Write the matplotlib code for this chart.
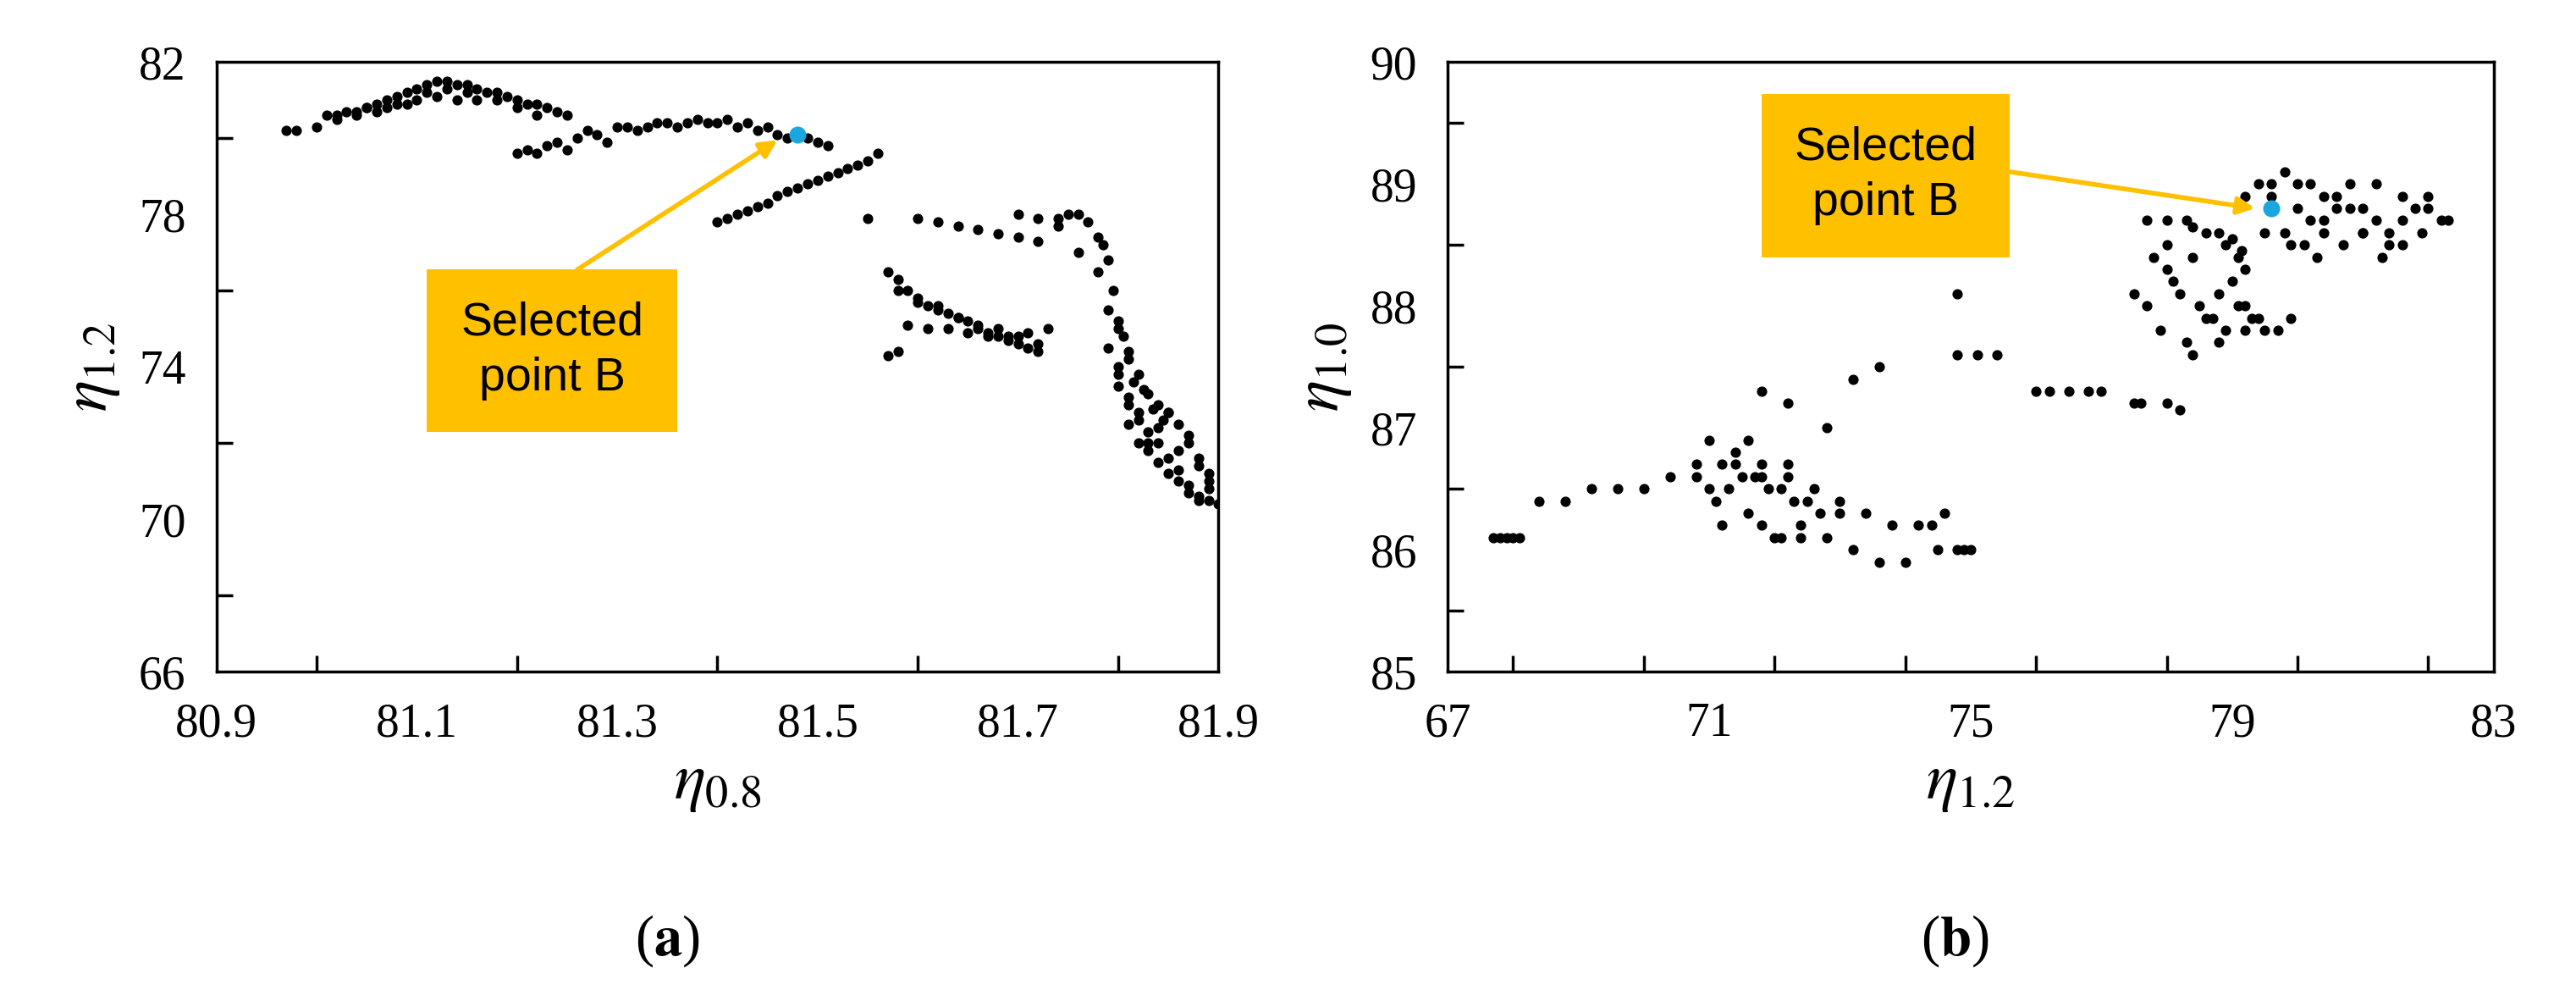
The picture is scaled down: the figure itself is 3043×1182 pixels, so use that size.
import matplotlib
matplotlib.use('Agg')
from matplotlib import pyplot as plt
from matplotlib.ticker import MultipleLocator
from matplotlib.patches import Rectangle

plt.rcParams['mathtext.fontset'] = 'stix'
plt.rcParams['font.family'] = 'Liberation Serif'

# panel (a): eta_0.8 vs eta_1.2
a_x = [80.97, 80.98, 81.00, 81.01, 81.02, 81.03, 81.04, 81.05, 81.06, 81.07, 81.08, 81.09,
       81.10, 81.11, 81.12, 81.13, 81.14, 81.15, 81.16, 81.17, 81.18, 81.19, 81.20, 81.21,
       81.22, 81.23, 81.24, 81.25, 81.02, 81.04, 81.06, 81.08, 81.10, 81.12, 81.14, 81.16,
       81.05, 81.07, 81.09, 81.11, 81.13, 81.15, 81.18, 81.20, 81.22,
       81.20, 81.21, 81.22, 81.23, 81.24, 81.25, 81.26, 81.27, 81.28, 81.29, 81.30,
       81.31, 81.32, 81.33, 81.34, 81.35, 81.36, 81.37, 81.38, 81.39, 81.40, 81.41, 81.42,
       81.43, 81.44, 81.45, 81.46, 81.47, 81.49, 81.50, 81.51,
       81.40, 81.41, 81.42, 81.43, 81.44, 81.45, 81.46, 81.47, 81.48, 81.49, 81.50, 81.51,
       81.52, 81.53, 81.54, 81.55, 81.56, 81.55,
       81.57, 81.58, 81.59, 81.60, 81.61, 81.62, 81.63, 81.64, 81.65, 81.66, 81.67, 81.68,
       81.69, 81.70, 81.71, 81.72, 81.58, 81.60, 81.62, 81.64, 81.66, 81.68, 81.70, 81.72,
       81.57, 81.58, 81.59, 81.61, 81.63, 81.65, 81.67, 81.69, 81.71, 81.73,
       81.60, 81.62, 81.64, 81.66, 81.68, 81.70, 81.72, 81.74, 81.75, 81.76, 81.77, 81.78,
       81.70, 81.72, 81.74, 81.76, 81.78, 81.79, 81.79, 81.80, 81.80, 81.81, 81.81, 81.82,
       81.82, 81.83, 81.83, 81.84, 81.84, 81.85, 81.85, 81.86, 81.86, 81.87, 81.87, 81.88,
       81.88, 81.89, 81.89, 81.90, 81.80, 81.81, 81.82, 81.83, 81.84, 81.85, 81.86, 81.87,
       81.88, 81.89, 81.81, 81.83, 81.85, 81.87, 81.89, 81.80, 81.82, 81.84, 81.86, 81.88,
       81.785, 81.79, 81.795, 81.80, 81.805, 81.81, 81.815, 81.825, 81.835, 81.845]
a_y = [80.2, 80.2, 80.3, 80.6, 80.6, 80.7, 80.7, 80.8, 80.9, 81.0, 81.1, 81.2,
       81.3, 81.4, 81.5, 81.5, 81.4, 81.4, 81.3, 81.2, 81.2, 81.1, 81.0, 80.9,
       80.9, 80.8, 80.7, 80.6, 80.5, 80.6, 80.7, 80.9, 81.0, 81.1, 81.0, 81.0,
       80.8, 80.8, 80.9, 81.2, 81.3, 81.2, 81.0, 80.8, 80.6,
       79.6, 79.7, 79.6, 79.8, 79.9, 79.7, 80.0, 80.2, 80.1, 79.9, 80.3,
       80.3, 80.2, 80.3, 80.4, 80.4, 80.3, 80.4, 80.5, 80.4, 80.4, 80.5, 80.3,
       80.4, 80.2, 80.3, 80.1, 80.0, 80.0, 79.9, 79.8,
       77.8, 77.9, 78.0, 78.1, 78.2, 78.3, 78.5, 78.6, 78.7, 78.8, 78.9, 79.0,
       79.1, 79.2, 79.3, 79.4, 79.6, 77.9,
       76.5, 76.3, 76.0, 75.8, 75.6, 75.5, 75.4, 75.3, 75.2, 75.0, 74.9, 74.8,
       74.7, 74.6, 74.5, 74.4, 76.0, 75.7, 75.6, 75.3, 75.1, 75.0, 74.8, 74.6,
       74.3, 74.4, 75.1, 75.0, 75.0, 74.9, 74.8, 74.8, 74.9, 75.0,
       77.9, 77.8, 77.7, 77.6, 77.5, 77.4, 77.3, 77.9, 78.0, 78.0, 77.8, 77.4,
       78.0, 77.9, 77.7, 77.0, 76.5, 75.5, 74.5, 74.0, 73.5, 73.2, 72.5, 72.8,
       72.0, 72.3, 71.8, 72.0, 71.5, 71.6, 71.2, 71.3, 71.0, 70.9, 70.7, 70.6,
       70.5, 70.5, 70.8, 70.4, 75.0, 74.2, 73.8, 73.3, 73.0, 72.8, 72.5, 72.0,
       71.6, 71.2, 73.0, 72.0, 72.8, 72.2, 71.0, 73.8, 72.6, 72.4, 71.8, 71.4,
       77.2, 76.8, 76.0, 75.2, 74.8, 74.4, 73.6, 73.4, 72.9, 72.6]
b_point_a = (81.48, 80.1)

# panel (b): eta_1.2 vs eta_1.0
b_x = [67.7, 67.8, 67.9, 68.0, 68.1, 68.4, 68.8, 69.2, 69.6, 70.0, 70.4, 70.8, 71.0, 71.2,
       71.4, 71.6, 71.8, 71.1, 71.3, 71.5, 71.7, 71.9, 72.1, 72.3, 72.5, 71.0, 71.4, 71.8,
       72.2, 72.6, 73.0, 73.4, 73.8, 74.2, 74.5, 74.8, 75.0, 72.0, 72.4, 72.8, 73.2, 73.6,
       74.0, 71.8, 72.1, 72.4, 72.7, 73.0, 74.4, 74.6, 74.9, 71.2, 71.6, 70.8, 72.2,
       71.8, 72.2, 72.8, 73.2, 73.6, 74.8, 75.1, 75.4, 76.0, 76.5, 77.0, 77.5, 78.0,
       78.2, 74.8, 76.2, 76.8, 77.6,
       77.5, 77.7, 77.9, 78.1, 78.3, 78.5, 78.7, 78.9, 79.1, 79.3, 79.5, 79.7, 79.9,
       77.8, 78.0, 78.2, 78.4, 78.6, 78.8, 79.0, 79.2, 79.4, 78.0, 78.4, 78.8, 79.2,
       77.7, 78.0, 78.3, 78.6, 78.9, 79.1, 79.2, 78.4, 78.8, 79.0, 79.15,
       79.2, 79.4, 79.6, 79.8, 80.0, 80.2, 80.4, 80.6, 80.8, 81.0, 81.2, 81.4, 81.6,
       81.8, 82.0, 82.2, 82.3, 79.5, 79.8, 80.1, 80.4, 80.7, 81.0, 81.3, 81.6, 81.9,
       79.6, 80.0, 80.4, 80.8, 81.2, 81.6, 82.0, 80.2, 80.6, 81.0, 81.4, 79.9, 80.3]
b_y = [86.1, 86.1, 86.1, 86.1, 86.1, 86.4, 86.4, 86.5, 86.5, 86.5, 86.6, 86.6, 86.5, 86.7,
       86.8, 86.9, 86.7, 86.4, 86.5, 86.6, 86.6, 86.5, 86.5, 86.4, 86.4, 86.9, 86.7, 86.6,
       86.6, 86.5, 86.4, 86.3, 86.2, 86.2, 86.0, 86.0, 86.0, 86.1, 86.1, 86.1, 86.0, 85.9,
       85.9, 86.2, 86.1, 86.2, 86.3, 86.3, 86.2, 86.3, 86.0, 86.2, 86.3, 86.7, 86.7,
       87.3, 87.2, 87.0, 87.4, 87.5, 87.6, 87.6, 87.6, 87.3, 87.3, 87.3, 87.2, 87.2,
       87.15, 88.1, 87.3, 87.3, 87.2,
       88.1, 88.0, 87.8, 88.2, 87.7, 88.0, 87.9, 87.8, 88.0, 87.9, 87.8, 87.8, 87.9,
       88.4, 88.3, 88.1, 87.6, 87.9, 88.1, 88.2, 88.0, 87.9, 88.5, 88.4, 87.7, 87.8,
       88.7, 88.7, 88.7, 88.6, 88.5, 88.4, 88.3, 88.65, 88.6, 88.55, 88.45,
       88.9, 89.0, 89.0, 89.1, 89.0, 89.0, 88.9, 88.9, 88.8, 88.8, 88.7, 88.6, 88.7,
       88.8, 88.8, 88.7, 88.7, 88.6, 88.6, 88.5, 88.6, 88.5, 88.6, 88.4, 88.5, 88.6,
       88.9, 88.8, 88.7, 89.0, 89.0, 88.9, 88.9, 88.7, 88.8, 88.6, 88.5, 88.5, 88.4]
b_point_b = (79.6, 88.8)

orange = '#FFC000'
cyan = '#1AA7E0'
box_font = ['Liberation Sans Narrow', 'Liberation Sans']


def callout(ax, x0, x1, y0, y1, tail, head):
    # orange box with label, plus arrow from the box to the selected point
    ax.add_patch(Rectangle((x0, y0), x1 - x0, y1 - y0, fc=orange, ec='none', zorder=4))
    ax.text((x0 + x1) / 2, (y0 + y1) / 2, 'Selected\npoint B', fontsize=40,
            family=box_font, ha='center', va='center', linespacing=1.35, zorder=5)
    ax.annotate('', xy=head, xytext=tail, zorder=4,
                arrowprops=dict(arrowstyle='-|>', color=orange, lw=4, mutation_scale=30,
                                shrinkA=0, shrinkB=0))


fig = plt.figure(figsize=(30.43, 11.82), dpi=100)
ax1 = fig.add_axes([0.084, 0.329, 0.389, 0.609])
ax2 = fig.add_axes([0.562, 0.329, 0.406, 0.609])

for ax in (ax1, ax2):
    for sp in ax.spines.values():
        sp.set_linewidth(2.5)
    ax.tick_params(which='both', direction='in', labelsize=40, pad=26, width=2.5)
    ax.tick_params(which='major', length=0)
    ax.tick_params(which='minor', length=14)

ax1.scatter(a_x, a_y, s=60, color='black', zorder=2)
ax1.scatter([b_point_a[0]], [b_point_a[1]], s=180, color=cyan, zorder=3)
ax1.set_xlim(80.9, 81.9)
ax1.set_ylim(66, 82)
ax1.set_xticks([80.9, 81.1, 81.3, 81.5, 81.7, 81.9])
ax1.set_xticklabels(['80.9', '81.1', '81.3', '81.5', '81.7', '81.9'])
ax1.set_yticks([66, 70, 74, 78, 82])
ax1.xaxis.set_minor_locator(MultipleLocator(0.1))
ax1.yaxis.set_minor_locator(MultipleLocator(2))
ax1.set_xlabel(r'$\eta_{0.8}$', fontsize=56, labelpad=6)
ax1.set_ylabel(r'$\eta_{1.2}$', fontsize=56, labelpad=14)
callout(ax1, 81.11, 81.36, 72.3, 76.55, (81.26, 76.55), (81.46, 79.95))

ax2.scatter(b_x, b_y, s=60, color='black', zorder=2)
ax2.scatter([b_point_b[0]], [b_point_b[1]], s=180, color=cyan, zorder=3)
ax2.set_xlim(67, 83)
ax2.set_ylim(85, 90)
ax2.set_xticks([67, 71, 75, 79, 83])
ax2.set_yticks([85, 86, 87, 88, 89, 90])
ax2.xaxis.set_minor_locator(MultipleLocator(2))
ax2.yaxis.set_minor_locator(MultipleLocator(0.5))
ax2.set_xlabel(r'$\eta_{1.2}$', fontsize=56, labelpad=6)
ax2.set_ylabel(r'$\eta_{1.0}$', fontsize=56, labelpad=14)
callout(ax2, 71.8, 75.6, 88.4, 89.74, (75.6, 89.1), (79.35, 88.8))

fig.text(0.259, 0.060, r'($\mathbf{a}$)', fontsize=48, ha='center', va='center')
fig.text(0.759, 0.060, r'($\mathbf{b}$)', fontsize=48, ha='center', va='center')

fig.savefig('out.png', dpi=100)
